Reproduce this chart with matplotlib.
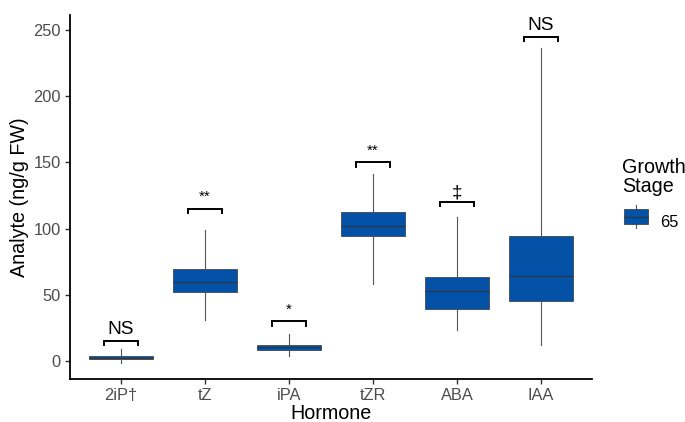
import matplotlib
matplotlib.use('Agg')
import matplotlib.pyplot as plt
from matplotlib.patches import Rectangle, Patch
from matplotlib.lines import Line2D
from matplotlib.legend_handler import HandlerBase

plt.rcParams['font.family'] = ['Liberation Sans', 'DejaVu Sans']

# values
hormones = ['2iP\u2020', 'tZ', 'iPA', 'tZR', 'ABA', 'IAA']
q1 = [1.2, 52.3, 8.1, 94.5, 39.4, 45.5]
med = [2.3, 59.5, 10.4, 102.3, 53.0, 63.9]
q3 = [3.4, 69.2, 12.4, 112.6, 63.2, 94.7]
whis_lo = [-1.5, 30.8, 3.6, 58.3, 23.3, 12.4]
whis_hi = [9.4, 99.0, 20.7, 141.4, 109.1, 236.7]

sig_labels = ['NS', '**', '*', '**', '\u2021', 'NS']
sig_y = [15, 115, 30, 150, 120, 245]

fill = '#0352A7'
edge = '#333333'

fig = plt.figure(figsize=(6.85, 4.22), dpi=100)
ax = fig.add_axes([0.1022, 0.1019, 0.7618, 0.8626])

stats = []
for i in range(len(hormones)):
    stats.append({'med': med[i], 'q1': q1[i], 'q3': q3[i],
                  'whislo': whis_lo[i], 'whishi': whis_hi[i], 'fliers': []})

pos = list(range(1, len(hormones) + 1))
ax.bxp(stats, positions=pos, widths=0.76, patch_artist=True, showcaps=False,
       boxprops=dict(facecolor=fill, edgecolor=edge, linewidth=0.5),
       medianprops=dict(color=edge, linewidth=0.8),
       whiskerprops=dict(color='#555555', linewidth=0.8), zorder=2)

# significance brackets
hw = 0.2
tick = 3.2
for p, lab, y in zip(pos, sig_labels, sig_y):
    ax.plot([p - hw, p - hw, p + hw, p + hw], [y - tick, y, y, y - tick],
            color='black', linewidth=1.4, solid_joinstyle='miter')
    if lab == 'NS':
        ax.text(p, y + 2.0, lab, ha='center', va='bottom', fontsize=13.8)
    elif lab == '\u2021':
        ax.text(p, y + 0.5, lab, ha='center', va='bottom', fontsize=13.5)
    else:
        ax.text(p, y + 3.5, lab, ha='center', va='bottom', fontsize=11)

ax.set_xlim(0.393, 6.607)
ax.set_ylim(-13.6, 261.3)
ax.set_xticks(pos)
ax.set_xticklabels(hormones)
ax.set_yticks([0, 50, 100, 150, 200, 250])
ax.tick_params(axis='both', labelsize=11.8, labelcolor='#4D4D4D', color='#333333',
               length=3.5, width=1.0, pad=3)
ax.spines['top'].set_visible(False)
ax.spines['right'].set_visible(False)
for s in ['left', 'bottom']:
    ax.spines[s].set_linewidth(1.3)
    ax.spines[s].set_color('black')
ax.set_xlabel('Hormone', fontsize=14.2, labelpad=1)
ax.set_ylabel('Analyte (ng/g FW)', fontsize=14.2, labelpad=3)


class BoxHandler(HandlerBase):
    def create_artists(self, legend, orig, xd, yd, width, height, fontsize, trans):
        cx = xd + width / 2
        ln = Line2D([cx, cx], [yd - height * 0.25, yd + height * 1.25],
                    color='#555555', linewidth=0.8, transform=trans)
        r = Rectangle((xd, yd), width, height, facecolor=fill, edgecolor=edge,
                      linewidth=0.5, transform=trans)
        m = Line2D([xd, xd + width], [yd + height / 2, yd + height / 2],
                   color=edge, linewidth=0.8, transform=trans)
        return [ln, r, m]


fig.text(622 / 685, 1 - 158 / 422, 'Growth\nStage', ha='left', va='top',
         fontsize=14.2, linespacing=1.0)
leg = fig.legend([Patch()], ['65'], handler_map={Patch: BoxHandler()},
                 loc='center left', bbox_to_anchor=(624 / 685, 1 - 221.5 / 422),
                 frameon=False, fontsize=11.8, handlelength=1.45,
                 handleheight=1.1, handletextpad=0.75, borderaxespad=0,
                 borderpad=0)

fig.savefig('out.png', dpi=100)
